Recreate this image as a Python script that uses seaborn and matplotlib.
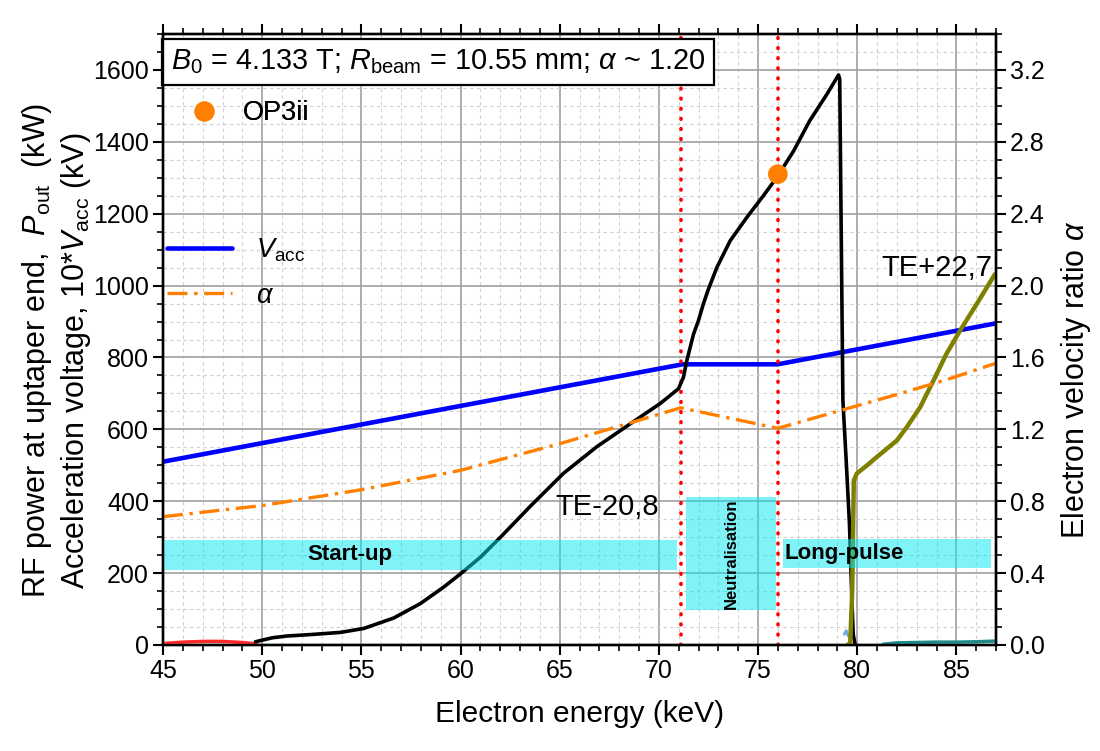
import numpy as np
import pandas as pd
import matplotlib
matplotlib.use("Agg")
import matplotlib.pyplot as plt
import seaborn as sns
from matplotlib.lines import Line2D
from matplotlib.patches import Rectangle
from matplotlib.ticker import MultipleLocator, FormatStrFormatter

# ---------------- data ----------------
energy_vacc = [45.0, 71.2, 76.0, 87.0]
vacc10 = [510, 781, 781, 895]

energy_alpha = [45, 50, 55, 60, 65, 68.5, 71.1, 76.0, 79, 82, 84.5, 87]
alpha = [0.714, 0.776, 0.864, 0.972, 1.12, 1.234, 1.32, 1.206, 1.30, 1.394, 1.476, 1.568]

energy_te20 = [49.66, 50.5, 51.25, 52.43, 53.94, 55.12, 56.63, 57.97, 59.15, 60.0,
               61.0, 62.0, 63.52, 65.2, 66.88, 68.39, 70.07, 70.99, 71.24, 71.41,
               71.75, 72.0, 72.25, 72.5, 72.93, 73.6, 74.44, 75.27, 76.0, 76.8,
               77.6, 78.47, 79.06, 79.12, 79.2, 79.28, 79.45, 79.61, 79.72, 79.8, 79.9]
p_te20 = [9, 20, 25, 29, 35, 46, 75, 115, 161, 198,
          244, 299, 386, 478, 552, 609, 672, 713, 745, 791,
          865, 903, 950, 990, 1051, 1125, 1190, 1250, 1305, 1375,
          1458, 1532, 1586, 1575, 1125, 680, 510, 338, 150, 30, 0]

energy_te22 = [79.5, 79.65, 79.75, 79.83, 79.98, 80.5, 80.99, 82.0, 82.5, 83.18,
               83.85, 84.5, 85.19, 86.03, 86.95]
p_te22 = [0, 5, 150, 458, 477, 500, 523, 569, 606, 662, 736, 810, 875, 949, 1032]

energy_red = [45, 46, 47, 48, 49, 49.7]
p_red = [4, 8, 10, 10, 7, 3]
energy_teal = [81.3, 82, 83, 84, 85, 86, 87]
p_teal = [2, 6, 7, 8, 8, 9, 11]
energy_green = [45, 87]
p_green = [1, 1]
energy_blip = [79.35, 79.45, 79.55]
p_blip = [30, 40, 25]

op_energy = [76.0]
op_power = [1310]

transition_energy = [71.1, 76.0]

phases = ["Start-up", "Neutralisation", "Long-pulse"]
phase_x0 = [45.0, 71.38, 76.24]
phase_x1 = [70.94, 75.9, 86.74]
phase_y0 = [210, 97, 213]
phase_y1 = [292, 412, 296]

mode_labels = ["TE-20,8", "TE+22,7"]
mode_x = [64.8, 81.2]
mode_y = [383, 1049]

x_ticks = [45, 50, 55, 60, 65, 70, 75, 80, 85]
y_ticks = [0, 200, 400, 600, 800, 1000, 1200, 1400, 1600]
a_ticks = [0.0, 0.4, 0.8, 1.2, 1.6, 2.0, 2.4, 2.8, 3.2]

# ---------------- style ----------------
sns.set_theme(style="ticks")
plt.rcParams['font.family'] = ['Liberation Sans', 'DejaVu Sans']
plt.rcParams['mathtext.fontset'] = 'custom'
plt.rcParams['mathtext.rm'] = 'Liberation Sans'
plt.rcParams['mathtext.it'] = 'Liberation Sans:italic'
plt.rcParams['mathtext.bf'] = 'Liberation Sans:bold'
for k in ['text.color', 'axes.labelcolor', 'xtick.color', 'ytick.color', 'axes.edgecolor']:
    plt.rcParams[k] = 'black'

W, H = 1100, 751
fig = plt.figure(figsize=(W / 100, H / 100), dpi=100)
L, R, T, B = 163, 996, 34, 645
ax = fig.add_axes([L / W, 1 - B / H, (R - L) / W, (B - T) / H])
ax2 = ax.twinx()

ax.set_xlim(45, 87)
ax.set_ylim(0, 1700)
ax2.set_ylim(0, 3.4)

# grid
ax.set_axisbelow(True)
ax.xaxis.set_major_locator(MultipleLocator(5))
ax.xaxis.set_minor_locator(MultipleLocator(1))
ax.yaxis.set_major_locator(MultipleLocator(200))
ax.yaxis.set_minor_locator(MultipleLocator(50))
ax2.yaxis.set_major_locator(MultipleLocator(0.4))
ax2.yaxis.set_minor_locator(MultipleLocator(0.1))
ax2.yaxis.set_major_formatter(FormatStrFormatter('%.1f'))
ax.grid(which='major', color='#a0a0a0', lw=1.2, ls='-')
ax.grid(which='minor', color='#d0d0d0', lw=0.8, ls=(0, (3, 3)))

# ---------------- series ----------------
sns.lineplot(x=energy_green, y=p_green, ax=ax, color='#5aa02c', lw=1.5, estimator=None, sort=False, zorder=3)
sns.lineplot(x=energy_red, y=p_red, ax=ax, color='#ff2a2a', lw=2.5, estimator=None, sort=False, zorder=3)
sns.lineplot(x=energy_teal, y=p_teal, ax=ax, color='#1f8a8a', lw=2.5, estimator=None, sort=False, zorder=3)
sns.lineplot(x=energy_blip, y=p_blip, ax=ax, color='#6fa8dc', lw=2.0, estimator=None, sort=False, zorder=3)
sns.lineplot(x=energy_vacc, y=vacc10, ax=ax, color='#0000ff', lw=3.3, estimator=None, sort=False, zorder=4)
sns.lineplot(x=energy_te20, y=p_te20, ax=ax, color='black', lw=2.6, estimator=None, sort=False, zorder=5)
sns.lineplot(x=energy_te22, y=p_te22, ax=ax, color='#808000', lw=3.2, estimator=None, sort=False, zorder=6)
sns.scatterplot(x=op_energy, y=op_power, ax=ax, color='#ff8000', s=200, edgecolor='none', zorder=7)

for xe in transition_energy:
    ax.axvline(xe, color='red', lw=2.6, ls=(0, (0.2, 2.6)), dash_capstyle='round', zorder=4)

# phase boxes
for name, x0, x1, y0, y1 in zip(phases, phase_x0, phase_x1, phase_y0, phase_y1):
    ax.add_patch(Rectangle((x0, y0), x1 - x0, y1 - y0, facecolor='#00e8f0', alpha=0.5,
                           edgecolor='none', zorder=8))
ax.text(54.4, (phase_y0[0] + phase_y1[0]) / 2, phases[0], fontsize=16, fontweight='bold',
        ha='center', va='center', zorder=9)
ax.text((phase_x0[1] + phase_x1[1]) / 2, 254, phases[1], fontsize=12, fontweight='bold',
        rotation=90, ha='center', va='center', zorder=9)
ax.text(phase_x0[2] + 0.1, (phase_y0[2] + phase_y1[2]) / 2, phases[2], fontsize=16,
        fontweight='bold', ha='left', va='center', zorder=9)

for lab, xm, ym in zip(mode_labels, mode_x, mode_y):
    ax.text(xm, ym, lab, fontsize=21, ha='left', va='center', zorder=9)

# alpha on right axis
sns.lineplot(x=energy_alpha, y=alpha, ax=ax2, color='#ff8000', lw=2.4,
             ls=(0, (6, 2, 1, 2)), estimator=None, sort=False)

# ---------------- axes styling ----------------
for a in (ax, ax2):
    for s in a.spines.values():
        s.set_linewidth(1.7)
        s.set_color('black')
ax.set_xticks(x_ticks)
ax.set_yticks(y_ticks)
ax2.set_yticks(a_ticks)
ax.tick_params(which='major', direction='out', length=7, width=1.5, labelsize=18,
               top=True, right=False, pad=3, colors='black')
ax.tick_params(which='minor', direction='out', length=4, width=1.2, top=True, right=False)
ax2.tick_params(which='major', direction='out', length=7, width=1.5, labelsize=18, pad=3)
ax2.tick_params(which='minor', direction='out', length=4, width=1.2)
ax.set_xlabel('Electron energy (keV)', fontsize=21.5, labelpad=12)
ax.set_ylabel('')
ax2.set_ylabel('')

fig.text(37 / W, 1 - 598 / H, 'RF power at uptaper end,  $P_{\\mathrm{out}}$  (kW)',
         rotation=90, ha='center', va='bottom', fontsize=22)
fig.text(76 / W, 1 - 589 / H, 'Acceleration voltage, 10*$V_{\\mathrm{acc}}$ (kV)',
         rotation=90, ha='center', va='bottom', fontsize=22)
fig.text(1076 / W, 1 - 380 / H, 'Electron velocity ratio $\\alpha$',
         rotation=90, ha='center', va='center', fontsize=22)

# parameter box
ax.text(171 / W, 1 - 62 / H, '$B_0$ = 4.133 T; $R_{\\mathrm{beam}}$ = 10.55 mm; $\\alpha$ ~ 1.20',
        transform=fig.transFigure, fontsize=20.8, ha='left', va='center', zorder=10,
        bbox=dict(boxstyle='square,pad=0.3', fc='white', ec='black', lw=1.6))

# legends
h1 = [Line2D([], [], ls='none', marker='o', color='#ff8000', markersize=13.5)]
leg1 = ax.legend(h1, ['OP3ii'], loc='center left', bbox_to_anchor=(190 / W, 1 - 113 / H),
                 bbox_transform=fig.transFigure, frameon=False, fontsize=19.5,
                 handlelength=1.0, handletextpad=0.95, borderpad=0, borderaxespad=0)
leg1.set_zorder(11)
ax.add_artist(leg1)
h2 = [Line2D([], [], color='#0000ff', lw=3.3),
      Line2D([], [], color='#ff8000', lw=2.4, ls=(0, (6, 2, 1, 2)))]
leg2 = ax2.legend(h2, ['$V_{\\mathrm{acc}}$', '$\\alpha$'], loc='center left',
                  bbox_to_anchor=(167 / W, 1 - 272.5 / H), bbox_transform=fig.transFigure,
                  frameon=False, fontsize=19.5, handlelength=2.4, handletextpad=0.9,
                  borderpad=0, borderaxespad=0, labelspacing=0.7)

fig.savefig('out.png', dpi=100)
